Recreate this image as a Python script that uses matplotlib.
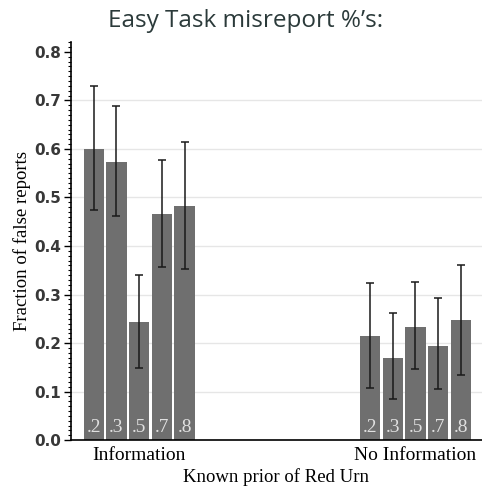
import numpy as np
import matplotlib.pyplot as plt
from matplotlib.ticker import MultipleLocator, FixedLocator

priors = ['.2', '.3', '.5', '.7', '.8']
groups = ['Information', 'No Information']

info_mean = [0.600, 0.573, 0.243, 0.467, 0.483]
info_lo = [0.474, 0.462, 0.148, 0.356, 0.353]
info_hi = [0.730, 0.689, 0.340, 0.577, 0.615]

noinfo_mean = [0.214, 0.170, 0.234, 0.195, 0.247]
noinfo_lo = [0.108, 0.085, 0.146, 0.105, 0.134]
noinfo_hi = [0.323, 0.263, 0.326, 0.293, 0.361]

means = [info_mean, noinfo_mean]
los = [info_lo, noinfo_lo]
his = [info_hi, noinfo_hi]

group_start = [0, 12.17]

fig = plt.figure(figsize=(4.82, 4.88), dpi=100)
ax = fig.add_axes([0.147, 0.098, 0.853, 0.8166])

bar_col = '#6f6f6f'
for g in range(2):
    x = group_start[g] + np.arange(len(priors))
    m = np.array(means[g])
    lo = np.array(los[g])
    hi = np.array(his[g])
    ax.bar(x, m, width=0.9, color=bar_col, edgecolor='none', zorder=2)
    ax.errorbar(x, m, yerr=[m - lo, hi - m], fmt='none', ecolor='#1a1a1a',
                elinewidth=1.1, capsize=3, capthick=1.1, zorder=3)
    for xi, lab in zip(x, priors):
        ax.text(xi, 0.008, lab, ha='center', va='bottom', color='#e0e0e0',
                fontsize=14, family='Liberation Serif', zorder=4)

ax.set_xlim(-1.01, 17.1)
ax.set_ylim(0, 0.821)

ax.yaxis.set_major_locator(FixedLocator([0, 0.1, 0.2, 0.3, 0.4, 0.5, 0.6, 0.7, 0.8]))
ax.yaxis.set_minor_locator(MultipleLocator(0.01))
ax.set_yticklabels(['0.0', '0.1', '0.2', '0.3', '0.4', '0.5', '0.6', '0.7', '0.8'])
ax.tick_params(axis='y', which='major', length=5, width=1, labelsize=11, pad=2)
ax.tick_params(axis='y', which='minor', length=2.5, width=0.8)
for t in ax.get_yticklabels():
    t.set_fontweight('bold')
    t.set_color('#383838')

centers = [group_start[g] + 2 for g in range(2)]
ax.set_xticks(centers)
ax.set_xticklabels(groups, family='Liberation Serif', fontsize=14)
ax.tick_params(axis='x', length=0, pad=5)

for yv in [0.1, 0.2, 0.3, 0.4, 0.5, 0.6, 0.7]:
    ax.axhline(yv, color='#e6e6e6', lw=1, zorder=1)

ax.spines['top'].set_visible(False)
ax.spines['right'].set_visible(False)
ax.spines['left'].set_linewidth(1.2)
ax.spines['bottom'].set_linewidth(1.2)

ax.set_xlabel('Known prior of Red Urn', family='Liberation Serif', fontsize=13.5, labelpad=3)
ax.set_ylabel('Fraction of false reports', family='Liberation Serif', fontsize=13.5, labelpad=2)

fig.text(0.51, 0.956, 'Easy Task misreport %\u2019s:', ha='center', va='center',
         fontsize=17.5, family='Open Sans', color='#2b3a3a')

fig.savefig('out.png', dpi=100)
